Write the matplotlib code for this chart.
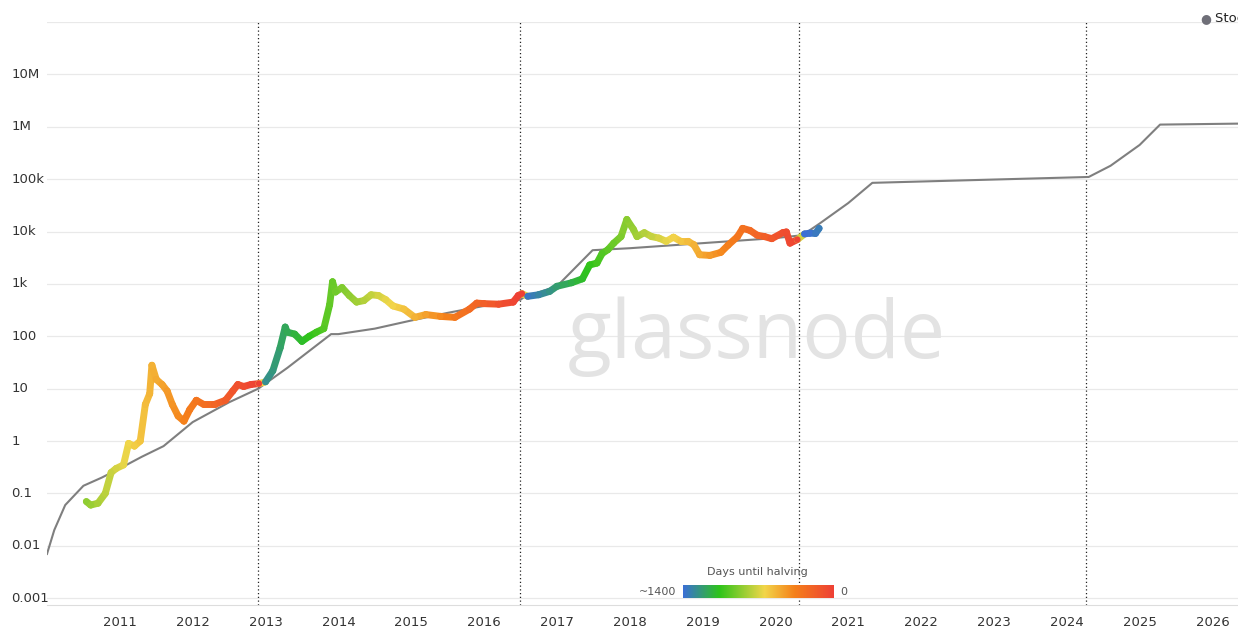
import matplotlib.pyplot as plt
import numpy as np
from matplotlib.collections import LineCollection
from matplotlib.colors import LinearSegmentedColormap, Normalize

# price (decimal year, USD)
price_t = [2010.54, 2010.6, 2010.7, 2010.8, 2010.88, 2010.95, 2011.05, 2011.12, 2011.2, 2011.28,
           2011.35, 2011.41, 2011.44, 2011.5, 2011.58, 2011.65, 2011.72, 2011.8, 2011.88, 2011.96,
           2012.05, 2012.15, 2012.3, 2012.45, 2012.55, 2012.62, 2012.7, 2012.8, 2012.91, 2013.0,
           2013.1, 2013.2, 2013.27, 2013.3, 2013.4, 2013.5, 2013.6, 2013.7, 2013.8, 2013.88,
           2013.92, 2013.96, 2014.05, 2014.15, 2014.25, 2014.35, 2014.45, 2014.55, 2014.65, 2014.75,
           2014.9, 2015.05, 2015.2, 2015.4, 2015.6, 2015.8, 2015.9, 2016.0, 2016.2, 2016.4,
           2016.47, 2016.52, 2016.6, 2016.75, 2016.9, 2017.0, 2017.2, 2017.35, 2017.45, 2017.55,
           2017.62, 2017.7, 2017.78, 2017.88, 2017.96, 2018.05, 2018.1, 2018.2, 2018.3, 2018.4,
           2018.5, 2018.6, 2018.7, 2018.8, 2018.88, 2018.96, 2019.1, 2019.25, 2019.35, 2019.48,
           2019.55, 2019.65, 2019.75, 2019.85, 2019.95, 2020.1, 2020.15, 2020.2, 2020.3, 2020.4,
           2020.47, 2020.55, 2020.6]
price_v = [0.07, 0.06, 0.065, 0.1, 0.25, 0.3, 0.35, 0.9, 0.8, 1.0,
           5, 8, 28, 15, 12, 9, 5, 3, 2.4, 4,
           6, 5, 5, 6, 9, 12, 11, 12, 12.5, 13.5,
           22, 60, 150, 120, 110, 80, 100, 120, 140, 400,
           1100, 700, 850, 600, 450, 480, 620, 600, 500, 380,
           330, 230, 260, 240, 230, 330, 430, 420, 410, 450,
           600, 650, 580, 620, 720, 900, 1050, 1250, 2300, 2500,
           3800, 4500, 6000, 8000, 17000, 11000, 8000, 9500, 8000, 7500,
           6500, 7800, 6500, 6500, 5600, 3600, 3500, 4000, 5500, 8000,
           11500, 10500, 8500, 8000, 7300, 9500, 9800, 6000, 7000, 9000,
           9300, 9200, 11500]

# stock-to-flow model
s2f_t = [2010.0, 2010.1, 2010.25, 2010.5, 2010.75, 2011.0, 2011.3, 2011.6, 2012.0, 2012.5,
         2012.9, 2013.3, 2013.9, 2014.0, 2014.5, 2015.0, 2015.5, 2016.0, 2016.5, 2016.55,
         2017.0, 2017.49, 2018.0, 2019.0, 2020.0, 2020.37, 2020.6, 2021.0, 2021.33, 2024.3,
         2024.6, 2025.0, 2025.28, 2026.4]
s2f_v = [0.007, 0.02, 0.06, 0.14, 0.2, 0.3, 0.5, 0.8, 2.3, 5.5,
         10, 25, 110, 110, 140, 200, 280, 380, 500, 560,
         900, 4400, 4800, 6000, 7500, 8500, 14000, 35000, 85000, 110000,
         180000, 450000, 1100000, 1150000]

halvings = [2012.89, 2016.49, 2020.33, 2024.27]
ytick_vals = [1e-3, 1e-2, 1e-1, 1, 10, 100, 1e3, 1e4, 1e5, 1e6, 1e7]
ytick_labels = ["0.001", "0.01", "0.1", "1", "10", "100", "1k", "10k", "100k", "1M", "10M"]
years = list(range(2011, 2027))

cmap = LinearSegmentedColormap.from_list(
    "halv", [(0, "#3b6fd6"), (0.24, "#2ec41a"), (0.54, "#f2d64a"), (0.74, "#f5801a"), (1, "#ee4035")])
norm = Normalize(-1400, 0)

fig = plt.figure(figsize=(12.38, 6.38), dpi=100)
ax = fig.add_axes([47 / 1238, 33 / 638, 1191 / 1238, 583 / 638])
ax.set_yscale("log")
ax.set_xlim(2010.0, 2026.35)
ax.set_ylim(10 ** -3.13, 1e8)
for v in ytick_vals + [1e8]:
    ax.axhline(v, color="#e9e9e9", lw=0.9, zorder=0)
for s in ["top", "right", "left"]:
    ax.spines[s].set_visible(False)
ax.spines["bottom"].set_color("#dddddd")
ax.set_yticks([])
ax.minorticks_off()
ax.set_xticks(years)
ax.set_xticklabels([str(y) for y in years], fontsize=9.5, color="#333333")
ax.tick_params(axis="x", length=0, pad=8)
for v, l in zip(ytick_vals, ytick_labels):
    ax.text(-0.03, v, l, transform=ax.get_yaxis_transform(), ha="left", va="center",
            fontsize=9.5, color="#333333")

for h in halvings:
    ax.axvline(h, color="#222222", lw=0.9, ls=(0, (1, 2)), zorder=1)

ax.text(2019.74, 100, "glassnode", fontsize=58, color="#e3e3e3", ha="center", va="center",
        zorder=1, family=["Open Sans", "DejaVu Sans"])

ax.plot(s2f_t, s2f_v, color="#7f7f7f", lw=1.5, zorder=2)

t = np.array(price_t)
v = np.array(price_v)
nxt = np.array([min(h for h in halvings if h >= x - 0.03) for x in t])
days = -np.clip(nxt - t, 0, None) * 365.25
segs = [[(t[i], v[i]), (t[i + 1], v[i + 1])] for i in range(len(t) - 1)]
lc = LineCollection(segs, colors=cmap(norm((days[:-1] + days[1:]) / 2)), lw=5,
                    capstyle="round", joinstyle="round", zorder=3)
ax.add_collection(lc)
ax.scatter(t, v, c=cmap(norm(days)), s=22, zorder=3, linewidths=0)

# legend
fig.text(1206 / 1238, 1 - 19 / 638, "●", color="#6f6f78", fontsize=9, ha="center", va="center")
fig.text(1215 / 1238, 1 - 19 / 638, "Stock-to-Flow Model", color="#222222", fontsize=9.5,
         va="center")

# colorbar
cax = fig.add_axes([683 / 1238, 1 - 598 / 638, 150 / 1238, 13 / 638])
cax.imshow(np.linspace(0, 1, 256)[None, :], aspect="auto", cmap=cmap)
cax.set_axis_off()
fig.text(757 / 1238, 1 - 572 / 638, "Days until halving", ha="center", va="center",
         fontsize=8, color="#555555")
fig.text(676 / 1238, 1 - 592 / 638, "~1400", ha="right", va="center", fontsize=8, color="#555555")
fig.text(840 / 1238, 1 - 592 / 638, "0", ha="left", va="center", fontsize=8, color="#555555")

fig.savefig("out.png", dpi=100)
